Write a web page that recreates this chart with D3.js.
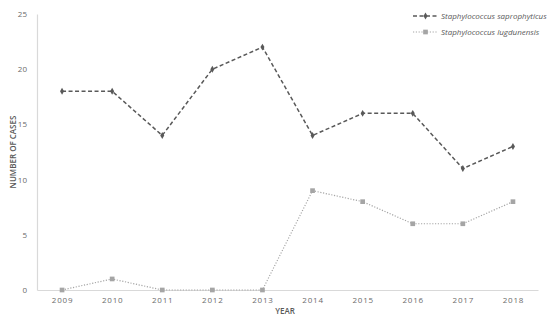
<!DOCTYPE html>
<html>
<head>
<meta charset="utf-8">
<script src="https://cdn.jsdelivr.net/npm/d3@7"></script>
<style>
  body { margin: 0; background: #fff; }
  text { font-family: "Open Sans", sans-serif; }
</style>
</head>
<body>
<svg id="chart"></svg>
<script>
const years = ["2009", "2010", "2011", "2012", "2013", "2014", "2015", "2016", "2017", "2018"];
const saprophyticus = [18, 18, 14, 20, 22, 14, 16, 16, 11, 13];
const lugdunensis = [0, 1, 0, 0, 0, 9, 8, 6, 6, 8];
const yTicks = [0, 5, 10, 15, 20, 25];
const seriesNames = ["Staphylococcus saprophyticus", "Staphylococcus lugdunensis"];

const width = 550, height = 320;
const margin = { top: 14, right: 12, bottom: 30, left: 37 };

const svg = d3.select("#chart")
    .attr("width", width)
    .attr("height", height);

const x = d3.scalePoint()
    .domain(years)
    .range([margin.left, width - margin.right])
    .padding(0.5);

const y = d3.scaleLinear()
    .domain([0, 25])
    .range([height - margin.bottom, margin.top]);

// axes
const xAxis = svg.append("g")
    .attr("transform", `translate(0,${y(0)})`)
    .call(d3.axisBottom(x).tickSize(0).tickPadding(7));
xAxis.select(".domain").attr("stroke", "#d9d9d9").attr("stroke-width", 1.2);
xAxis.selectAll("text")
    .attr("fill", "#6b6b6b")
    .style("font-size", "8px")
    .style("letter-spacing", "0.8px");

const yAxis = svg.append("g")
    .attr("transform", `translate(${margin.left},0)`)
    .call(d3.axisLeft(y).tickValues(yTicks).tickSize(0).tickPadding(10));
yAxis.select(".domain").attr("stroke", "#d9d9d9").attr("stroke-width", 1.2);
yAxis.selectAll("text")
    .attr("fill", "#6b6b6b")
    .style("font-size", "8px");

// titles
svg.append("text")
    .attr("x", 285)
    .attr("y", 314)
    .attr("text-anchor", "middle")
    .attr("fill", "#595959")
    .style("font-size", "8px")
    .style("font-weight", "600")
    .text("YEAR");

svg.append("text")
    .attr("transform", `translate(16,${(y(0) + y(25)) / 2}) rotate(-90)`)
    .attr("text-anchor", "middle")
    .attr("fill", "#595959")
    .style("font-size", "8px")
    .style("font-weight", "600")
    .text("NUMBER OF CASES");

// series
const line = d3.line()
    .x((d, i) => x(years[i]))
    .y(d => y(d));

const series = [
    { name: seriesNames[0], values: saprophyticus, color: "#595959", dash: "4,2.5", width: 1.5, symbol: d3.symbolDiamond, size: 14 },
    { name: seriesNames[1], values: lugdunensis, color: "#a5a5a5", dash: "1.2,1.6", width: 1.2, symbol: d3.symbolSquare, size: 22 }
];

series.forEach(s => {
    svg.append("path")
        .datum(s.values)
        .attr("fill", "none")
        .attr("stroke", s.color)
        .attr("stroke-width", s.width)
        .attr("stroke-dasharray", s.dash)
        .attr("d", line);

    svg.append("g")
        .selectAll("path")
        .data(s.values)
        .join("path")
        .attr("transform", (d, i) => `translate(${x(years[i])},${y(d)})`)
        .attr("d", d3.symbol().type(s.symbol).size(s.size))
        .attr("fill", s.color);
});

// legend
const legend = svg.append("g").attr("transform", "translate(413,16)");
series.forEach((s, i) => {
    const g = legend.append("g").attr("transform", `translate(0,${i * 16})`);
    g.append("line")
        .attr("x1", 0).attr("x2", 25)
        .attr("stroke", s.color)
        .attr("stroke-width", s.width)
        .attr("stroke-dasharray", s.dash);
    g.append("path")
        .attr("transform", "translate(12.5,0)")
        .attr("d", d3.symbol().type(s.symbol).size(s.size))
        .attr("fill", s.color);
    g.append("text")
        .attr("x", 28)
        .attr("dy", "0.35em")
        .attr("fill", "#595959")
        .style("font-size", "8px")
        .style("font-style", "italic")
        .text(s.name);
});
</script>
</body>
</html>
